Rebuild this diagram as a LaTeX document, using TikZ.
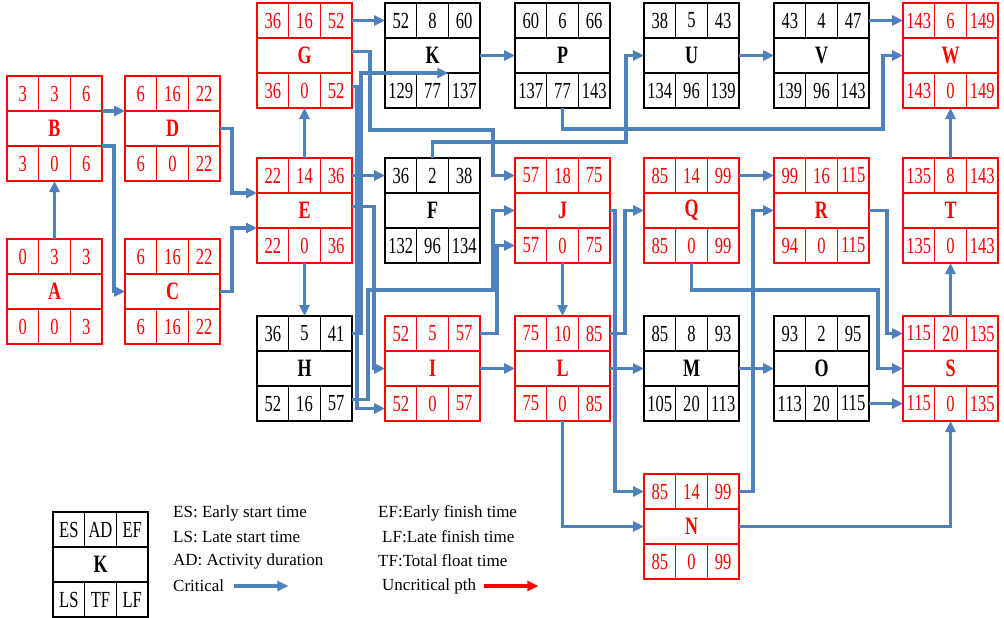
\documentclass[tikz,border=0pt]{standalone}
\usepackage{fontspec}
\setmainfont{Liberation Serif}
\newfontfamily\boxfont[FakeStretch=0.72]{Liberation Serif}
\usepackage{tikz}
\usetikzlibrary{positioning, arrows.meta}
\definecolor{critblue}{RGB}{79,129,189}

\newcommand{\actcells}[8]{%
  \node[cell, draw=#2, text=#2, anchor=north west] (#1-es) at (#1.north west) {#3};
  \node[cell, draw=#2, text=#2, right=0pt of #1-es] (#1-ad) {#4};
  \node[cell, draw=#2, text=#2, right=0pt of #1-ad] (#1-ef) {#5};
  \node[cell, draw=#2, text=#2, anchor=south west] (#1-ls) at (#1.south west) {#6};
  \node[cell, draw=#2, text=#2, right=0pt of #1-ls] (#1-tf) {#7};
  \node[cell, draw=#2, text=#2, right=0pt of #1-tf] (#1-lf) {#8};
}
\newcommand{\actbox}[4]{%
  \node[frame, draw=#2, anchor=north west] (#1) at (#3) {};
  \node[midrow, text=#2] (#1-mid) at (#1.center) {\textbf{#4}};
  \actcells{#1}{#2}%
}

\begin{document}
\begin{tikzpicture}[
    x=1pt, y=-1pt,
    frame/.style={minimum width=95pt, minimum height=105pt, inner sep=0pt, outer sep=0pt, line width=1.6pt},
    cell/.style={minimum width=31.667pt, minimum height=35pt, inner sep=0pt, outer sep=0pt, line width=1.6pt, font=\boxfont\fontsize{23}{23}\selectfont},
    midrow/.style={minimum width=95pt, minimum height=35pt, inner sep=0pt, outer sep=0pt, font=\boxfont\bfseries\fontsize{25}{25}\selectfont},
    crit/.style={critblue, line width=3.2pt, -{Triangle[length=11pt,width=10pt]}},
    uncrit/.style={red, line width=3.2pt, -{Triangle[length=11pt,width=10pt]}},
    legtext/.style={anchor=west, inner sep=0pt, font=\fontsize{17}{17}\selectfont}
]
\useasboundingbox (0,0) rectangle (1004,618);

\actbox{B}{red}{7,76}{B}{3}{3}{6}{3}{0}{6}
\actbox{A}{red}{7,239}{A}{0}{3}{3}{0}{0}{3}
\actbox{D}{red}{125,76}{D}{6}{16}{22}{6}{0}{22}
\actbox{C}{red}{125,239}{C}{6}{16}{22}{6}{16}{22}
\actbox{G}{red}{257,3}{G}{36}{16}{52}{36}{0}{52}
\actbox{E}{red}{257,158}{E}{22}{14}{36}{22}{0}{36}
\actbox{H}{black}{257,316}{H}{36}{5}{41}{52}{16}{57}
\actbox{K}{black}{385,3}{K}{52}{8}{60}{129}{77}{137}
\actbox{F}{black}{385,158}{F}{36}{2}{38}{132}{96}{134}
\actbox{I}{red}{385,316}{I}{52}{5}{57}{52}{0}{57}
\actbox{P}{black}{515,3}{P}{60}{6}{66}{137}{77}{143}
\actbox{J}{red}{515,158}{J}{57}{18}{75}{57}{0}{75}
\actbox{L}{red}{515,316}{L}{75}{10}{85}{75}{0}{85}
\actbox{U}{black}{644,3}{U}{38}{5}{43}{134}{96}{139}
\actbox{Q}{red}{644,158}{Q}{85}{14}{99}{85}{0}{99}
\actbox{M}{black}{644,316}{M}{85}{8}{93}{105}{20}{113}
\actbox{N}{red}{644,474}{N}{85}{14}{99}{85}{0}{99}
\actbox{V}{black}{774,3}{V}{43}{4}{47}{139}{96}{143}
\actbox{R}{red}{774,158}{R}{99}{16}{115}{94}{0}{115}
\actbox{O}{black}{774,316}{O}{93}{2}{95}{113}{20}{115}
\actbox{W}{red}{903,3}{W}{143}{6}{149}{143}{0}{149}
\actbox{T}{red}{903,158}{T}{135}{8}{143}{135}{0}{143}
\actbox{S}{red}{903,316}{S}{115}{20}{135}{115}{0}{135}

\draw[crit] (A-ad.north) -- (B-tf.south);
\draw[crit] (B-ef.south east) -- (D-es.south west);
\draw[crit] (B-lf.north east) -- ++(12,0) |- (C-mid.west);
\draw[crit] (D-mid.east) -- ++(12,0) |- (E-es.south west);
\draw[crit] (C-mid.east) -- ++(12,0) |- (E-ls.north west);
\draw[crit] (E-ad.north) -- (G-tf.south);
\draw[crit] (E-tf.south) -- (H-ad.north);
\draw[crit] (E-ef.east) -- (F-es.west);
\draw[crit] ([yshift=4pt]E-mid.east) -- ++(22,0) |- (I-mid.west);
\draw[crit] (G-ef.east) -- (K-es.west);
\draw[crit] ([yshift=4pt]G-mid.east) -- ++(18,0) |- (493,130) |- (J-es.west);
\draw[crit] ([yshift=4pt]G-lf.east) -- ++(5,0) |- ([yshift=-5pt]I-ls.west);
\draw[crit] (H-ef.east) -- ++(9,0) |- (K-lf.north west);
\draw[crit] ([yshift=4pt]H-lf.east) -- ++(16,0) |- (493,290) |- (J-mid.west);
\draw[crit] (K-mid.east) -- (P-mid.west);
\draw[crit] (F-ad.north) |- (626,142) |- (U-mid.west);
\draw[crit] (I-ef.east) -- ++(17,0) |- (J-ls.west);
\draw[crit] (I-mid.east) -- (L-mid.west);
\draw[crit] (P-tf.south) |- (883,129) |- (W-mid.west);
\draw[crit] (J-tf.south) -- (L-ad.north);
\draw[crit] (J-mid.east) -- ++(5,0) |- (N-es.west);
\draw[crit] (L-ef.east) -- ++(15,0) |- (Q-mid.west);
\draw[crit] (L-mid.east) -- (M-mid.west);
\draw[crit] (L-tf.south) |- (N-mid.west);
\draw[crit] (U-mid.east) -- (V-mid.west);
\draw[crit] (V-ef.east) -- (W-es.west);
\draw[crit] (Q-ef.east) -- (R-es.west);
\draw[crit] (Q-tf.south) |- (878,290) |- (S-mid.west);
\draw[crit] (M-mid.east) -- (O-mid.west);
\draw[crit] (N-ef.east) -- ++(14,0) |- (R-mid.west);
\draw[crit] (N-mid.east) -| (S-tf.south);
\draw[crit] (R-mid.east) -- ++(18,0) |- (S-es.west);
\draw[crit] (O-lf.east) -- (S-ls.west);
\draw[crit] (S-ad.north) -- (T-tf.south);
\draw[crit] (T-ad.north) -- (W-tf.south);

\actbox{key}{black}{53,512}{K}{ES}{AD}{EF}{LS}{TF}{LF}
\node[legtext] (es) at (173,513) {ES: Early start time};
\node[legtext] (ls) at (173,537) {LS: Late start time};
\node[legtext] (ad) at (173,561) {AD: Activity duration};
\node[legtext] (critical) at (173,586) {Critical};
\node[legtext] (ef) at (378,513) {EF:Early finish time};
\node[legtext] (lf) at (382,537) {LF:Late finish time};
\node[legtext] (tf) at (378,561) {TF:Total float time};
\node[legtext] (uncritical) at (382,586) {Uncritical pth};
\draw[crit] ([xshift=10pt]critical.east) -- ++(54,0);
\draw[uncrit] ([xshift=8pt]uncritical.east) -- ++(54,0);
\end{tikzpicture}
\end{document}
